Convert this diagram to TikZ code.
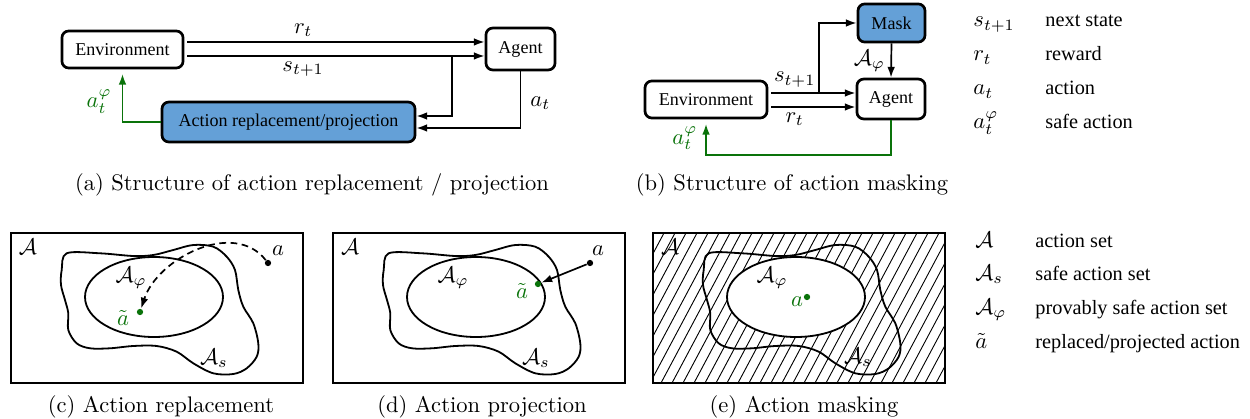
\documentclass[tikz,border=0pt]{standalone}
\usepackage{fontspec}
\newfontfamily\tms{Liberation Serif}
\usetikzlibrary{arrows.meta,calc}
\definecolor{boxblue}{RGB}{100,160,215}
\definecolor{sgreen}{RGB}{10,115,10}
\begin{document}
\begin{tikzpicture}[x=0.4435pt,y=-0.4435pt,
  box/.style={draw, line width=1.2pt, rounded corners=3pt, font=\tms\fontsize{8}{9.6}\selectfont, inner sep=0pt, align=center},
  arr/.style={-{Latex[length=4.8pt,width=3.4pt]}, line width=0.75pt},
  garr/.style={arr, draw=sgreen},
  lbl/.style={inner sep=0pt},
  glbl/.style={inner sep=0pt, text=sgreen},
  dot/.style={circle, fill, inner sep=0pt, minimum size=2.8pt},
  gdot/.style={dot, fill=sgreen},
  setline/.style={line width=0.8pt},
  frame/.style={line width=0.5pt},
  hatch/.style={line width=0.4pt},
  captext/.style={inner sep=0pt},
  legtxt/.style={inner sep=0pt, anchor=base west, font=\tms\fontsize{9}{11}\selectfont},
  legsym/.style={inner sep=0pt, anchor=base west}]
\useasboundingbox (0,0) rectangle (1250,419);

% ---------------- (a) ----------------
\node[box, minimum width=53.7pt, minimum height=16.4pt] (envA) at (122.5,49.5) {Environment};
\node[box, minimum width=30.6pt, minimum height=18.6pt] (agentA) at (520.5,49) {Agent};
\node[box, fill=boxblue, minimum width=112.2pt, minimum height=17.7pt] (act) at (288.5,122) {Action replacement/projection};

\coordinate (rs) at ([xshift=1.2pt,yshift=3.33pt]envA.east);
\coordinate (re) at (rs -| agentA.west);
\coordinate (ss) at ([xshift=1.2pt,yshift=-2.88pt]envA.east);
\coordinate (se) at (ss -| agentA.west);
\draw[arr] (rs) -- node[pos=0.39, above=2pt, lbl] {$r_t$} (re);
\draw[arr] (ss) -- node[pos=0.39, below=2.2pt, lbl] {$s_{t+1}$} (se);
\coordinate (br) at ($(ss)!0.89!(se)$);
\coordinate (actR1) at ([yshift=2.66pt]act.east);
\coordinate (actR2) at ([yshift=-2.66pt]act.east);
\draw[arr] (br) |- (actR1);
\draw[arr] (agentA.south) |- node[pos=0.28, right=4pt, lbl] {$a_t$} (actR2);
\draw[garr] (act.west) -| node[pos=0.71, left=4.5pt, glbl] {$a_t^{\varphi}$} ([yshift=-2pt]envA.south);

\node[captext] (capA) at (312,185) {(a) Structure of action replacement / projection};

% ---------------- (b) ----------------
\node[box, fill=boxblue, minimum width=29.7pt, minimum height=16.9pt] (mask) at (891.5,23) {Mask};
\node[box, minimum width=30.2pt, minimum height=17.7pt] (agentB) at (891,99) {Agent};
\node[box, minimum width=54.1pt, minimum height=16.4pt] (envB) at (706,99.5) {Environment};

\coordinate (bs1) at ([xshift=1.2pt,yshift=2.88pt]envB.east);
\coordinate (bs2) at (bs1 -| agentB.west);
\coordinate (br1) at ([xshift=1.2pt,yshift=-3.33pt]envB.east);
\coordinate (br2) at (br1 -| agentB.west);
\draw[arr] (bs1) -- node[pos=0.28, above=2.2pt, lbl] {$s_{t+1}$} (bs2);
\draw[arr] (br1) -- node[pos=0.28, below=2pt, lbl] {$r_t$} (br2);
\coordinate (bb) at ($(bs1)!0.57!(bs2)$);
\draw[arr] (bb) |- (mask.west);
\draw[arr] (mask.south) -- node[left=2.5pt, lbl] {$\mathcal{A}_\varphi$} (agentB.north);
\coordinate (gb) at ($(agentB.south)+(0,35)$);
\draw[garr] (agentB.south) -- (gb) -| node[pos=0.77, left=3.5pt, glbl] {$a_t^{\varphi}$} ([yshift=-2pt]envB.south);

\node[captext] (capB) at (792,185) {(b) Structure of action masking};

% ---------------- legend top ----------------
\node[legsym] (ls1) at (973,27) {$s_{t+1}$};
\node[legtxt] (lt1) at (1045,27) {next state};
\node[legsym] (ls2) at (973,61) {$r_t$};
\node[legtxt] (lt2) at (1045,61) {reward};
\node[legsym] (ls3) at (973,95) {$a_t$};
\node[legtxt] (lt3) at (1045,95) {action};
\node[legsym] (ls4) at (973,129) {$a_t^{\varphi}$};
\node[legtxt] (lt4) at (1045,129) {safe action};

% ---------------- (e) hatching ----------------
\begin{scope}
  \clip (653,233) rectangle (945,383);
  \foreach \i in {0,...,35} \draw[hatch] ({573+\i*11},383) -- ++(80,-150);
  \fill[white] (796,297) ellipse [x radius=30.6pt, y radius=17.74pt];
\end{scope}

% ---------------- sets (c),(d),(e) ----------------
\foreach \s in {0,322,642} {
  \begin{scope}[shift={(\s,0)}]
    \draw[frame] (11,233) rectangle (303,383);
    \draw[setline] plot[smooth cycle, tension=0.55] coordinates {
      (66.7,253.3) (100,253.3) (133.3,256) (153.3,255) (173.3,250) (193.3,245)
      (213.3,246.7) (226.7,256.7) (235,270) (238.3,290) (243.3,306.7) (253.3,323.3)
      (258.3,343.3) (256.7,356.7) (246.7,368.3) (233.3,374) (213.3,373.3) (193.3,363.3)
      (176.7,351.7) (156.7,346) (133.3,346) (110,348.3) (90,348.3) (76.7,343.3)
      (68.3,330) (68.3,313.3) (65,300) (61,285) (61.7,270)};
    \draw[setline] (154,297) ellipse [x radius=30.6pt, y radius=17.74pt];
  \end{scope}
}

% labels (c)
\node[lbl] (cA) at (28,247) {$\mathcal{A}$};
\node[lbl] (cAp) at (131,278) {$\mathcal{A}_\varphi$};
\node[lbl] (cAs) at (214,358) {$\mathcal{A}_s$};
\node[dot] (ca) at (268,263) {};
\node[lbl] (cal) at (278,251) {$a$};
\node[gdot] (ct) at (140,312) {};
\node[glbl] (ctl) at (123,318) {$\tilde a$};
\draw[arr, dashed, dash pattern=on 3pt off 2pt] (ca) to[out=128, in=72] (ct);

% labels (d)
\node[lbl] (dA) at (350,247) {$\mathcal{A}$};
\node[lbl] (dAp) at (453,278) {$\mathcal{A}_\varphi$};
\node[lbl] (dAs) at (536,358) {$\mathcal{A}_s$};
\node[dot] (da) at (590,263) {};
\node[lbl] (dal) at (598,251) {$a$};
\node[gdot] (dt) at (538,284) {};
\node[glbl] (dtl) at (522,291) {$\tilde a$};
\draw[arr] (da) -- (dt);

% labels (e)
\node[lbl] (eA) at (670,247) {$\mathcal{A}$};
\node[lbl] (eAp) at (772,278) {$\mathcal{A}_\varphi$};
\node[lbl] (eAs) at (858,357) {$\mathcal{A}_s$};
\node[gdot] (ea) at (807,297) {};
\node[glbl] (eal) at (797,302) {$a$};

\node[captext] (capC) at (161,407) {(c) Action replacement};
\node[captext] (capD) at (482,407) {(d) Action projection};
\node[captext] (capE) at (804,407) {(e) Action masking};

% ---------------- legend bottom ----------------
\node[legsym] (m1) at (975,247) {$\mathcal{A}$};
\node[legtxt] (n1) at (1035,247) {action set};
\node[legsym] (m2) at (975,280) {$\mathcal{A}_s$};
\node[legtxt] (n2) at (1035,280) {safe action set};
\node[legsym] (m3) at (975,314) {$\mathcal{A}_\varphi$};
\node[legtxt] (n3) at (1035,314) {provably safe action set};
\node[legsym] (m4) at (975,348) {$\tilde a$};
\node[legtxt] (n4) at (1035,348) {replaced/projected action};
\end{tikzpicture}
\end{document}
